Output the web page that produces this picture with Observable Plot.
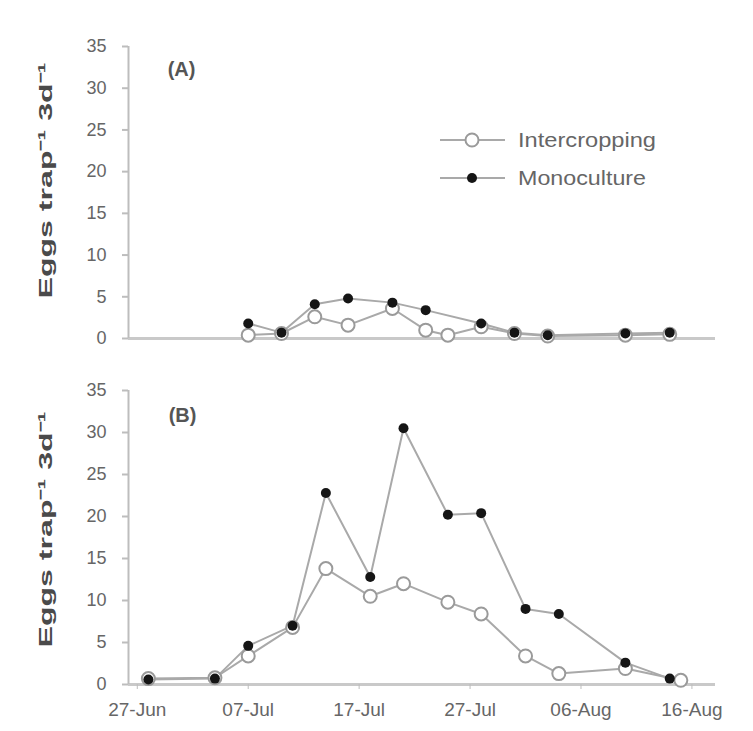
<!DOCTYPE html>
<html><head><meta charset="utf-8">
<script src="https://cdn.jsdelivr.net/npm/d3@7"></script>
<script src="https://cdn.jsdelivr.net/npm/@observablehq/plot@0.6"></script>
<style>
body{margin:0;background:#fff;}
#chart{width:753px;height:731px;}
#chart svg{display:block;}
</style></head><body><div id="chart"></div>
<script>
// ---- Data ----
const seriesNames = ["Intercropping", "Monoculture"];
// Panel (A)
const datesAInter = ["2008-07-07","2008-07-10","2008-07-13","2008-07-16","2008-07-20","2008-07-23","2008-07-25","2008-07-28","2008-07-31","2008-08-03","2008-08-10","2008-08-14"];
const interA =      [0.4, 0.6, 2.6, 1.6, 3.6, 1.0, 0.4, 1.4, 0.6, 0.3, 0.4, 0.5];
const datesAMono =  ["2008-07-07","2008-07-10","2008-07-13","2008-07-16","2008-07-20","2008-07-23","2008-07-28","2008-07-31","2008-08-03","2008-08-10","2008-08-14"];
const monoA =       [1.8, 0.7, 4.1, 4.8, 4.3, 3.4, 1.8, 0.7, 0.4, 0.6, 0.7];
// Panel (B)
const datesBInter = ["2008-06-28","2008-07-04","2008-07-07","2008-07-11","2008-07-14","2008-07-18","2008-07-21","2008-07-25","2008-07-28","2008-08-01","2008-08-04","2008-08-10","2008-08-15"];
const interB =      [0.7, 0.8, 3.4, 6.8, 13.8, 10.5, 12.0, 9.8, 8.4, 3.4, 1.3, 1.9, 0.5];
const datesBMono =  ["2008-06-28","2008-07-04","2008-07-07","2008-07-11","2008-07-14","2008-07-18","2008-07-21","2008-07-25","2008-07-28","2008-08-01","2008-08-04","2008-08-10","2008-08-14"];
const monoB =       [0.6, 0.7, 4.6, 7.0, 22.8, 12.8, 30.5, 20.2, 20.4, 9.0, 8.4, 2.6, 0.7];
// Axis ticks
const xTickDates = ["2008-06-27","2008-07-07","2008-07-17","2008-07-27","2008-08-06","2008-08-16"];
const yTicks = [0, 5, 10, 15, 20, 25, 30, 35];
const yLabel = "Eggs trap\u207B\u00B9 3d\u207B\u00B9";
const panelLabels = ["(A)", "(B)"];

// ---- Build tables ----
const parse = d3.utcParse("%Y-%m-%d");
function rows(dates, vals, series) {
  return dates.map((d, i) => ({date: parse(d), value: vals[i], series}));
}
const tableA = [...rows(datesAInter, interA, seriesNames[0]), ...rows(datesAMono, monoA, seriesNames[1])];
const tableB = [...rows(datesBInter, interB, seriesNames[0]), ...rows(datesBMono, monoB, seriesNames[1])];

const xDomain = [new Date(Date.UTC(2008, 5, 26, 5)), new Date(Date.UTC(2008, 7, 18, 3))];
const FONT = "'Liberation Sans', Arial, sans-serif";

function panel(table, opts) {
  const inter = table.filter(d => d.series === seriesNames[0]);
  const mono = table.filter(d => d.series === seriesNames[1]);
  const marks = [
    Plot.ruleY([0], {stroke: "#c9c9c9", strokeWidth: 3}),
    Plot.ruleX([xDomain[0]], {stroke: "#bdbdbd", strokeWidth: 2}),
    Plot.axisY({ticks: yTicks, tickSize: 6, tickPadding: 16, label: null, fontSize: 18, stroke: "#bdbdbd", strokeWidth: 2, fill: "#666"}),
    opts.xLabels
      ? Plot.axisX({ticks: xTickDates.map(parse), tickFormat: d3.utcFormat("%d-%b"), tickSize: 5, tickPadding: 13, label: null, fontSize: 19, stroke: "#bdbdbd", fill: "#666"})
      : null,
    Plot.line(table, {x: "date", y: "value", z: "series", stroke: "#a9a9a9", strokeWidth: 2}),
    Plot.dot(inter, {x: "date", y: "value", r: 6.5, fill: "white", stroke: "#9a9a9a", strokeWidth: 2}),
    Plot.dot(mono, {x: "date", y: "value", r: 5, fill: "#151515"}),
    Plot.text([opts.label], {frameAnchor: "top-left", dx: opts.labelDx, dy: opts.labelDy, textAnchor: "middle", fontSize: 20, fontWeight: "bold", fill: "#555"}),
    Plot.text([yLabel], {frameAnchor: "left", dx: -83, dy: opts.yLabelDy, rotate: -90, textAnchor: "middle", fontSize: 19, fontWeight: "bold", fill: "#4a4a4a"})
  ].filter(Boolean);
  const svg = Plot.plot({
    width: 753,
    height: opts.height,
    marginLeft: 128,
    marginRight: 38,
    marginTop: opts.marginTop,
    marginBottom: opts.marginBottom,
    style: {fontFamily: FONT, background: "white", color: "#666"},
    x: {type: "utc", domain: xDomain, axis: null},
    y: {domain: [0, 35], axis: null},
    marks
  });
  d3.select(svg).selectAll("text").filter(function() { return this.textContent === yLabel; })
    .attr("textLength", 236).attr("lengthAdjust", "spacingAndGlyphs");
  return svg;
}

const svgA = panel(tableA, {height: 360, marginTop: 46, marginBottom: 22, xLabels: false, label: panelLabels[0], labelDx: 53, labelDy: 15, yLabelDy: -12});
const svgB = panel(tableB, {height: 371, marginTop: 30, marginBottom: 47, xLabels: true, label: panelLabels[1], labelDx: 54, labelDy: 17, yLabelDy: -8});

// Legend inside panel (A)
const lg = d3.select(svgA).append("g").attr("font-family", FONT).attr("font-size", 21).attr("fill", "#666").attr("text-anchor", "start");
seriesNames.forEach((name, i) => {
  const y = 140 + i * 38;
  lg.append("line").attr("x1", 440).attr("x2", 505).attr("y1", y).attr("y2", y).attr("stroke", "#a9a9a9").attr("stroke-width", 2);
  if (i === 0) lg.append("circle").attr("cx", 472).attr("cy", y).attr("r", 6.5).attr("fill", "white").attr("stroke", "#9a9a9a").attr("stroke-width", 2);
  else lg.append("circle").attr("cx", 472).attr("cy", y).attr("r", 5).attr("fill", "#151515");
  lg.append("text").attr("x", 518).attr("y", y).attr("dy", "0.35em").attr("text-anchor", "start").text(name)
    .attr("textLength", i === 0 ? 138 : 128).attr("lengthAdjust", "spacingAndGlyphs");
});

const chart = document.getElementById("chart");
chart.appendChild(svgA);
chart.appendChild(svgB);
</script>
</body></html>
